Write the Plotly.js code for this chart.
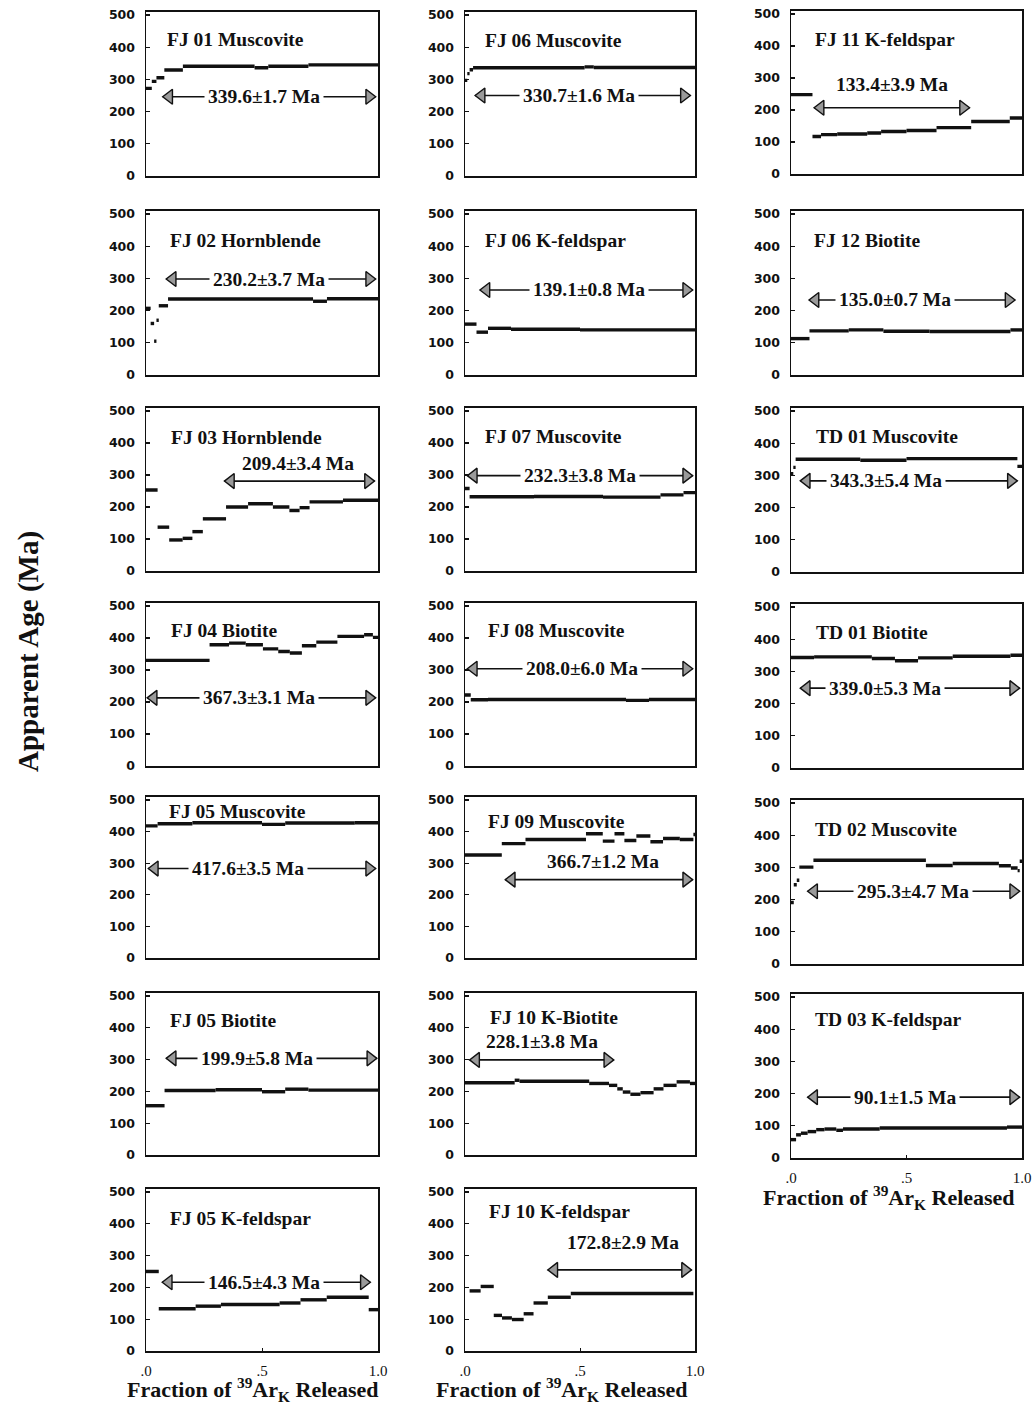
<!DOCTYPE html>
<html><head><meta charset="utf-8">
<script src="https://cdn.plot.ly/plotly-3.0.1.min.js"></script>
<style>body{margin:0;background:#fff}</style>
</head><body><div id="chart" style="width:1033px;height:1407px"></div>
<script>
// ---- Step-heating age spectra: cumulative 39Ar fraction edges and apparent ages (Ma) ----
const fj01Edges = [0, 0.025, 0.045, 0.079, 0.159, 0.468, 0.527, 0.70, 1.0];
const fj01Ages  = [272, 294, 305, 329, 341, 336, 341, 345];
const fj02Edges = [0, 0.02, 0.035, 0.045, 0.055, 0.095, 0.72, 0.78, 1.0];
const fj02Ages  = [207, 160, 105, 170, 215, 236, 229, 237];
const fj03Edges = [0, 0.05, 0.10, 0.158, 0.2, 0.245, 0.345, 0.44, 0.547, 0.618, 0.662, 0.705, 0.849, 1.0];
const fj03Ages  = [253, 137, 97, 102, 123, 163, 200, 210, 200, 189, 198, 216, 221];
const fj04Edges = [0, 0.274, 0.358, 0.43, 0.504, 0.57, 0.62, 0.672, 0.734, 0.825, 0.94, 0.978, 1.0];
const fj04Ages  = [330, 379, 384, 379, 366, 358, 353, 376, 387, 405, 410, 402];
const fj05mEdges = [0, 0.05, 0.2, 0.5, 0.6, 0.9, 1.0];
const fj05mAges  = [418, 425, 428, 423, 427, 428];
const fj05bEdges = [0, 0.08, 0.3, 0.5, 0.6, 0.7, 1.0];
const fj05bAges  = [155, 203, 205, 199, 207, 204];
const fj05kEdges = [0, 0.055, 0.214, 0.323, 0.576, 0.666, 0.779, 0.96, 1.0];
const fj05kAges  = [250, 133, 141, 146, 151, 161, 169, 130];
const fj06mEdges = [0, 0.01, 0.02, 0.035, 0.52, 0.56, 1.0];
const fj06mAges  = [297, 318, 330, 336, 339, 337];
const fj06kEdges = [0, 0.05, 0.1, 0.2, 0.5, 1.0];
const fj06kAges  = [158, 133, 145, 142, 140];
const fj07Edges = [0, 0.02, 0.3, 0.6, 0.85, 0.95, 1.0];
const fj07Ages  = [258, 232, 233, 231, 238, 245];
const fj08Edges = [0, 0.025, 0.1, 0.7, 0.8, 1.0];
const fj08Ages  = [222, 207, 208, 205, 208];
const fj09Edges = [0, 0.16, 0.263, 0.526, 0.599, 0.65, 0.693, 0.745, 0.806, 0.861, 0.934, 0.993, 1.0];
const fj09Ages  = [326, 362, 375, 393, 370, 393, 372, 386, 368, 378, 375, 391];
const fj10bEdges = [0, 0.216, 0.237, 0.54, 0.626, 0.662, 0.686, 0.719, 0.763, 0.82, 0.863, 0.92, 0.978, 1.0];
const fj10bAges  = [227, 235, 232, 225, 219, 208, 198, 191, 196, 208, 219, 230, 225];
const fj10kEdges = [0.02, 0.068, 0.125, 0.161, 0.204, 0.255, 0.298, 0.36, 0.46, 0.993];
const fj10kAges  = [189, 203, 112, 104, 99, 117, 151, 169, 181];
const fj11Edges = [0, 0.093, 0.13, 0.20, 0.33, 0.39, 0.50, 0.63, 0.78, 0.947, 1.0];
const fj11Ages  = [248, 117, 123, 125, 128, 133, 136, 145, 164, 175];
const fj12Edges = [0, 0.08, 0.25, 0.4, 0.6, 0.95, 1.0];
const fj12Ages  = [113, 137, 140, 136, 135, 140];
const td01mEdges = [0, 0.01, 0.02, 0.3, 0.5, 0.98, 1.0];
const td01mAges  = [305, 325, 350, 347, 352, 328];
const td01bEdges = [0, 0.1, 0.35, 0.45, 0.55, 0.7, 0.95, 1.0];
const td01bAges  = [343, 345, 340, 333, 342, 347, 350];
const td02Edges = [0, 0.012, 0.025, 0.036, 0.097, 0.584, 0.70, 0.90, 0.952, 0.981, 0.99, 1.0];
const td02Ages  = [191, 246, 260, 301, 322, 306, 312, 305, 298, 290, 319];
const td03Edges = [0, 0.022, 0.043, 0.072, 0.109, 0.145, 0.196, 0.225, 0.384, 0.935, 1.0];
const td03Ages  = [57, 72, 77, 82, 88, 90, 86, 90, 93, 96];

// ---- Sample names, plateau ages and plateau step ranges ----
const sampleNames = ['FJ 01 Muscovite','FJ 02 Hornblende','FJ 03 Hornblende','FJ 04 Biotite','FJ 05 Muscovite','FJ 05 Biotite','FJ 05 K-feldspar',
  'FJ 06 Muscovite','FJ 06 K-feldspar','FJ 07 Muscovite','FJ 08 Muscovite','FJ 09 Muscovite','FJ 10 K-Biotite','FJ 10 K-feldspar',
  'FJ 11 K-feldspar','FJ 12 Biotite','TD 01 Muscovite','TD 01 Biotite','TD 02 Muscovite','TD 03 K-feldspar'];
const plateauAges = ['339.6±1.7 Ma','230.2±3.7 Ma','209.4±3.4 Ma','367.3±3.1 Ma','417.6±3.5 Ma','199.9±5.8 Ma','146.5±4.3 Ma',
  '330.7±1.6 Ma','139.1±0.8 Ma','232.3±3.8 Ma','208.0±6.0 Ma','366.7±1.2 Ma','228.1±3.8 Ma','172.8±2.9 Ma',
  '133.4±3.9 Ma','135.0±0.7 Ma','343.3±5.4 Ma','339.0±5.3 Ma','295.3±4.7 Ma','90.1±1.5 Ma'];
const plateauStart = [0.072,0.087,0.338,0.005,0.01,0.087,0.07, 0.044,0.065,0.01,0.01,0.175,0.02,0.36, 0.10,0.078,0.04,0.04,0.072,0.072];
const plateauEnd   = [0.99,0.99,0.985,0.99,0.99,0.995,0.967, 0.98,0.99,0.99,0.99,0.99,0.647,0.985, 0.773,0.97,0.98,0.99,0.99,0.99];

const edgesList = [fj01Edges,fj02Edges,fj03Edges,fj04Edges,fj05mEdges,fj05bEdges,fj05kEdges,
  fj06mEdges,fj06kEdges,fj07Edges,fj08Edges,fj09Edges,fj10bEdges,fj10kEdges,
  fj11Edges,fj12Edges,td01mEdges,td01bEdges,td02Edges,td03Edges];
const agesList = [fj01Ages,fj02Ages,fj03Ages,fj04Ages,fj05mAges,fj05bAges,fj05kAges,
  fj06mAges,fj06kAges,fj07Ages,fj08Ages,fj09Ages,fj10bAges,fj10kAges,
  fj11Ages,fj12Ages,td01mAges,td01bAges,td02Ages,td03Ages];

// ---- placement (layout only) ----
const W = 1033, H = 1407;
const panelCol = [0,0,0,0,0,0,0, 1,1,1,1,1,1,1, 2,2,2,2,2,2];
const panelRow = [0,1,2,3,4,5,6, 0,1,2,3,4,5,6, 0,1,2,3,4,5];
const colLeft = [146, 465, 791], colRight = [378, 695, 1022];
const y500 = [[15,214,411,606,800,996,1192],[15,214,411,606,800,996,1192],[14,214,411,607,803,997]];
const y0px = [[176,375,571,766,958,1155,1351],[176,375,571,766,958,1155,1351],[174,375,572,768,964,1158]];
const arrowLevel = [246,298,281,213,283,304,216, 250,264,298,304,248,299,255, 207,233,283,248,226,189];
const labelX     = [0.51,0.53,0.655,0.485,0.44,0.48,0.51, 0.495,0.54,0.50,0.51,0.60,0.334,0.686, 0.436,0.45,0.41,0.405,0.527,0.495];
const labelLevel = [246,298,337,213,283,304,216, 250,264,298,304,306,356,340, 280,233,283,248,226,189];
const titleX     = [0.08,0.095,0.10,0.10,0.09,0.095,0.095, 0.08,0.08,0.08,0.09,0.09,0.10,0.095, 0.095,0.09,0.10,0.10,0.095,0.095];
const titleLevel = [423,419,416,423,465,424,417, 420,419,421,422,431,433,438, 421,419,422,422,417,430];
const headSize = 13; // arrowhead marker size in px

const serif = 'Liberation Serif, Times New Roman, serif';
const traces = [], annotations = [];
const layout = {
  width: W, height: H, margin: {l:0, r:0, t:0, b:0},
  paper_bgcolor: '#fff', plot_bgcolor: '#fff', showlegend: false,
  annotations: annotations
};

for (let i = 0; i < sampleNames.length; i++) {
  const n = i + 1;
  const xa = n === 1 ? 'x' : 'x' + n, ya = n === 1 ? 'y' : 'y' + n;
  const c = panelCol[i], r = panelRow[i];
  const b0 = y0px[c][r], b5 = y500[c][r];
  const top = b5 - 10 * (b0 - b5) / 500;
  const isBottom = (c < 2 && r === 6) || (c === 2 && r === 5);
  layout[n === 1 ? 'xaxis' : 'xaxis' + n] = {
    domain: [colLeft[c] / W, colRight[c] / W], anchor: ya, range: [0, 1],
    showline: true, mirror: true, linecolor: '#111', linewidth: 1.5,
    showgrid: false, zeroline: false, fixedrange: true,
    tickvals: [0, 0.5, 1], ticktext: ['.0', '.5', '1.0'],
    ticks: isBottom ? 'inside' : '', ticklen: 3, tickcolor: '#111',
    showticklabels: isBottom, ticklabelstandoff: 5,
    tickfont: {family: serif, size: 15, color: '#111'}
  };
  layout[n === 1 ? 'yaxis' : 'yaxis' + n] = {
    domain: [1 - b0 / H, 1 - top / H], anchor: xa, range: [0, 510],
    showline: true, mirror: true, linecolor: '#111', linewidth: 1.5,
    showgrid: false, zeroline: false, fixedrange: true,
    tickvals: [0, 100, 200, 300, 400, 500], ticks: 'inside', ticklen: 4, tickwidth: 1.3, tickcolor: '#111',
    ticklabelstandoff: 7,
    tickfont: {family: 'DejaVu Sans, sans-serif', size: 12.5, color: '#111', weight: 'bold'}
  };
  // step spectrum
  const ex = edgesList[i], ag = agesList[i];
  const xs = [], ys = [];
  for (let j = 0; j < ag.length; j++) {
    xs.push(ex[j], ex[j + 1], null);
    ys.push(ag[j], ag[j], null);
  }
  traces.push({x: xs, y: ys, xaxis: xa, yaxis: ya, type: 'scatter', mode: 'lines',
    line: {color: '#111', width: 3.4}, hoverinfo: 'skip'});
  // double-headed plateau arrow: shaft
  traces.push({x: [plateauStart[i], plateauEnd[i]], y: [arrowLevel[i], arrowLevel[i]],
    xaxis: xa, yaxis: ya, type: 'scatter', mode: 'lines', cliponaxis: false,
    line: {color: '#111', width: 1.6}, hoverinfo: 'skip'});
  // arrowheads: triangles pulled in by half their size so the tips sit on the range ends
  const half = (headSize / 2) / (colRight[c] - colLeft[c]);
  traces.push({x: [plateauStart[i] + half, plateauEnd[i] - half], y: [arrowLevel[i], arrowLevel[i]],
    xaxis: xa, yaxis: ya, type: 'scatter', mode: 'markers', cliponaxis: false,
    marker: {symbol: ['triangle-left', 'triangle-right'], size: headSize, color: '#9a9a9a',
      line: {color: '#111', width: 1.4}},
    hoverinfo: 'skip'});
  // sample title
  annotations.push({xref: xa, yref: ya, x: titleX[i], y: titleLevel[i], xanchor: 'left', yanchor: 'middle',
    text: '<b>' + sampleNames[i] + '</b>', showarrow: false,
    font: {family: serif, size: 19.5, color: '#111'}});
  // plateau age label
  const inline = labelLevel[i] === arrowLevel[i];
  annotations.push({xref: xa, yref: ya, x: labelX[i], y: labelLevel[i], xanchor: 'center', yanchor: 'middle',
    text: '<b>' + plateauAges[i] + '</b>', showarrow: false,
    bgcolor: inline ? '#fff' : 'rgba(0,0,0,0)', borderpad: inline ? 3 : 0,
    font: {family: serif, size: 19.5, color: '#111'}});
}

// shared axis titles
annotations.push({xref: 'paper', yref: 'paper', x: 28 / W, y: 1 - 652 / H, textangle: -90,
  text: '<b>Apparent Age (Ma)</b>', showarrow: false, xanchor: 'center', yanchor: 'middle',
  font: {family: serif, size: 29, color: '#111'}});
const xTitle = '<b>Fraction of <sup>39</sup>Ar<sub>K</sub> Released</b>';
[[253, 1389], [562, 1389], [889, 1197]].forEach(p => {
  annotations.push({xref: 'paper', yref: 'paper', x: p[0] / W, y: 1 - p[1] / H,
    text: xTitle, showarrow: false, xanchor: 'center', yanchor: 'middle',
    font: {family: serif, size: 22, color: '#111'}});
});

Plotly.newPlot('chart', traces, layout, {staticPlot: true, displayModeBar: false});
</script></body></html>
